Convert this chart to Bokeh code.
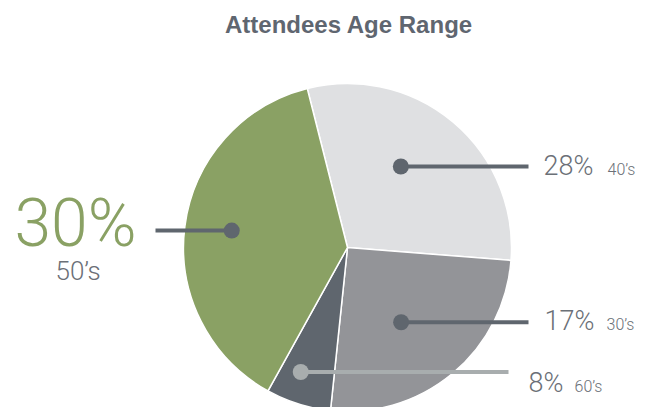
import numpy as np
from bokeh.plotting import figure
from bokeh.models import Range1d, ColumnDataSource
from bokeh.core.properties import value
from bokeh.embed import file_html
from bokeh.resources import INLINE

# ---- data ----
title = "Attendees Age Range"
categories = ["40\u2019s", "30\u2019s", "60\u2019s", "50\u2019s"]
label_pct = [28, 17, 8, 30]
# share of the circle each slice occupies in the drawing (%)
slice_share = [30.2, 25.4, 6.4, 38.0]

# ---- styles / layout ----
slice_colors = ["#dfe0e2", "#939498", "#5f666e", "#8aa164"]
callout_colors = ["#5f666e", "#5f666e", "#a8adae", "#5f666e"]
pct_colors = ["#6b7077", "#6b7077", "#6b7077", "#8aa164"]
sub_colors = ["#6b7077", "#6b7077", "#6b7077", "#6b7077"]

W, H = 649, 407
K = 0.37  # baseline compensation (fraction of font size)


def Y(img_y):
    return H - img_y


p = figure(width=W, height=H, x_range=Range1d(0, W), y_range=Range1d(0, H),
           output_backend="svg", toolbar_location=None, min_border=0)
p.axis.visible = False
p.grid.visible = False
p.outline_line_color = None
p.background_fill_color = "white"
p.border_fill_color = "white"

# pie
cx, cy, R = 347, Y(247), 164
start0 = np.deg2rad(104.2)
frac = np.array(slice_share) / np.sum(slice_share)
ends = start0 - np.cumsum(frac) * 2 * np.pi
starts = np.concatenate([[start0], ends[:-1]])
p.wedge(x=cx, y=cy, radius=R, start_angle=starts, end_angle=ends, direction="clock",
        fill_color=slice_colors, line_color="white", line_width=1.5)

# callouts anchored relative to slice mid-angles
mids = (starts + ends) / 2
delta = np.deg2rad([6.8, -4.1, -3.1, -0.9])
dist = np.array([97, 92, 133, 117])
dot_x = cx + dist * np.cos(mids + delta)
dot_y = cy + dist * np.sin(mids + delta)
line_end_x = [528, 528, 508, 155]

src = ColumnDataSource(dict(x0=dot_x, y0=dot_y, x1=line_end_x, y1=dot_y, c=callout_colors))
p.segment(x0="x0", y0="y0", x1="x1", y1="y1", line_color="c", line_width=4, source=src)
p.scatter(x="x0", y="y0", size=16, fill_color="c", line_color=None, source=src)

light = value("Roboto Light, Roboto, sans-serif")

pct_px = np.array([27, 27, 27, 66])
sub_px = np.array([16, 16, 16, 26])
pct_x = [543, 544, 528, 14]
pct_y = Y(np.array([175, 330, 392, 247])) + K * pct_px
sub_x = [607, 606, 574, 55]
sub_y = Y(np.array([175, 330, 392, 280])) + K * sub_px

tsrc = ColumnDataSource(dict(px=pct_x, py=pct_y, pt=[f"{v}%" for v in label_pct],
                             ps=[f"{s}px" for s in pct_px], pc=pct_colors,
                             sx=sub_x, sy=sub_y, st=categories,
                             ss=[f"{s}px" for s in sub_px], sc=sub_colors))
p.text(x="px", y="py", text="pt", text_font_size="ps", text_color="pc", text_font=light,
       text_baseline="alphabetic", text_align="left", source=tsrc)
p.text(x="sx", y="sy", text="st", text_font_size="ss", text_color="sc", text_font=light,
       text_baseline="alphabetic", text_align="left", source=tsrc)

p.text(x=[348.5], y=[Y(33.3) + K * 24], text=[title], text_font=value("Liberation Sans"),
       text_font_style="bold", text_font_size="24px", text_color="#5f6670",
       text_align="center", text_baseline="alphabetic")

open("out.html", "w").write(file_html(p, INLINE))
